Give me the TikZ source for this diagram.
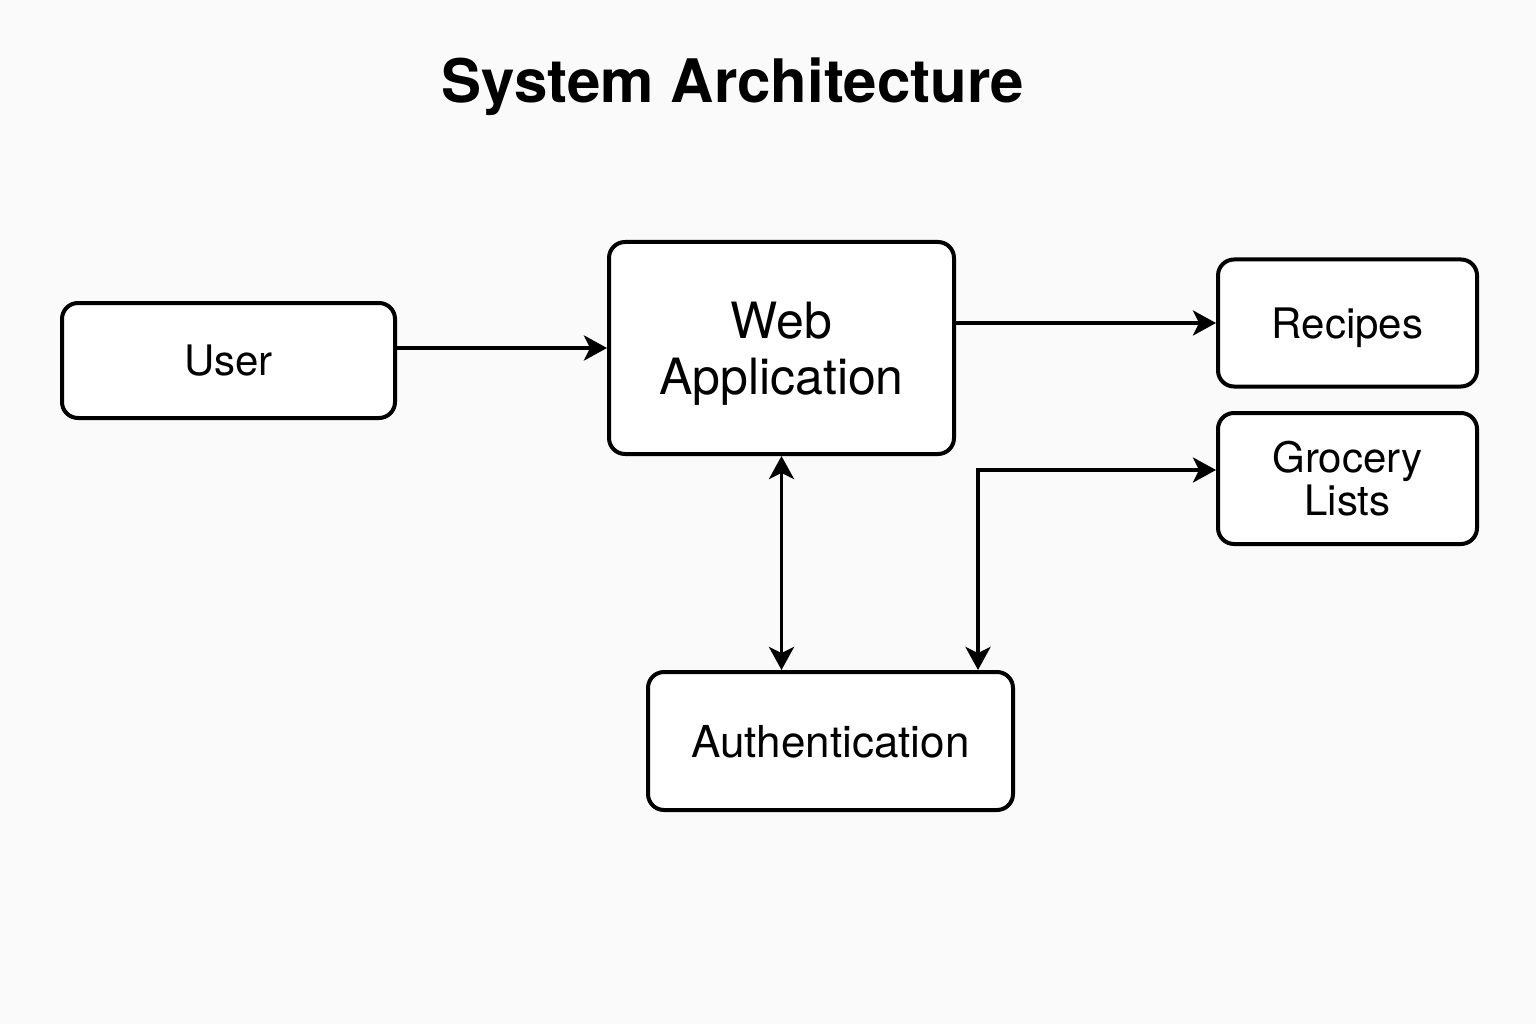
\documentclass[tikz,border=0pt]{standalone}
\usepackage{fontspec}
\setmainfont{TeX Gyre Heros}
\usetikzlibrary{arrows.meta,calc}
\begin{document}
\begin{tikzpicture}[x=1pt,y=-1pt,
  box/.style={draw=black, line width=4pt, rounded corners=16pt, fill=white, inner sep=0pt, align=center,
    text depth=0pt, font=\fontsize{42}{43}\selectfont},
  arr/.style={line width=3.4pt, -{Stealth[length=23pt,width=25pt,inset=6pt]}},
  darr/.style={line width=3.4pt, {Stealth[length=23pt,width=25pt,inset=6pt]}-{Stealth[length=23pt,width=25pt,inset=6pt]}}
]
\fill[fill={rgb,255:red,250;green,250;blue,250}] (0,0) rectangle (1536,1024);
\useasboundingbox (0,0) rectangle (1536,1024);

\node[anchor=base, font=\fontsize{60}{62}\selectfont\bfseries] (title) at (733,103) {System Architecture};

\node[box, minimum width=333pt, minimum height=115pt] (user) at (228.5,360.5) {User};
\node[box, minimum width=345pt, minimum height=212pt, font=\fontsize{50}{56}\selectfont] (web) at (781.5,348) {Web\\Application};
\node[box, minimum width=259pt, minimum height=127pt] (recipes) at (1347.5,323) {Recipes};
\node[box, minimum width=259pt, minimum height=131pt] (grocery) at (1347.5,478.5) {Grocery\\Lists};
\node[box, minimum width=365pt, minimum height=138pt, font=\fontsize{44}{46}\selectfont] (auth) at (830.5,741) {Authentication};

\coordinate (corner) at (978,470);

\draw[arr] (user.east |- web.west) -- (web.west);
\draw[arr] (web.east |- recipes.west) -- (recipes.west);
\draw[darr] (web.south) -- (web.south |- auth.north);
\draw[darr] (corner |- auth.north) -- (corner) -- (corner -| grocery.west);
\end{tikzpicture}
\end{document}
